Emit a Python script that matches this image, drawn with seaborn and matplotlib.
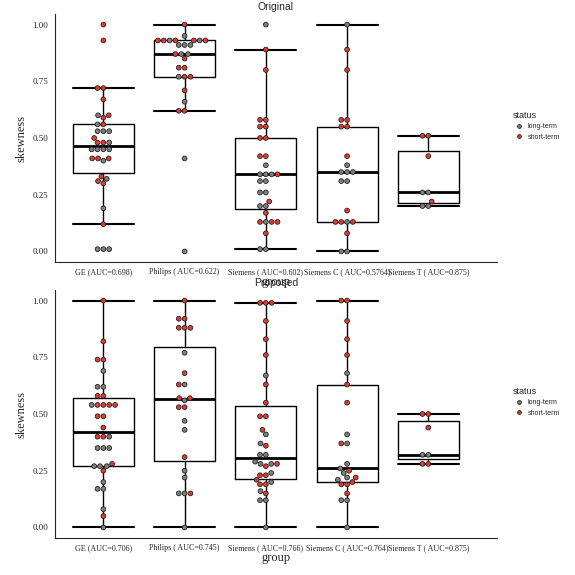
import pandas as pd
import numpy as np
import seaborn as sns
import matplotlib.pyplot as plt

#%% data (long-term = grey, short-term = red)
orig_groups = ['GE (AUC=0.698)', 'Philips ( AUC=0.622)', 'Siemens ( AUC=0.602)',
               'Siemens C ( AUC=0.5764)', 'Siemens T ( AUC=0.875)']
orig_long = [
    [0.60, 0.56, 0.53, 0.53, 0.53, 0.48, 0.45, 0.45, 0.45, 0.45, 0.40, 0.32, 0.19, 0.01, 0.01, 0.01],
    [0.95, 0.93, 0.93, 0.91, 0.91, 0.91, 0.87, 0.87, 0.77, 0.66, 0.41, 0.00],
    [1.00, 0.38, 0.34, 0.34, 0.34, 0.31, 0.31, 0.26, 0.26, 0.20, 0.20, 0.13, 0.01, 0.01],
    [1.00, 0.38, 0.35, 0.35, 0.35, 0.31, 0.31, 0.13, 0.00, 0.00],
    [0.26, 0.26, 0.20, 0.20],
]
orig_short = [
    [1.00, 0.93, 0.72, 0.72, 0.67, 0.60, 0.59, 0.56, 0.50, 0.48, 0.48, 0.41, 0.41, 0.41, 0.33, 0.31, 0.30, 0.12],
    [1.00, 0.93, 0.93, 0.93, 0.93, 0.93, 0.87, 0.85, 0.81, 0.81, 0.77, 0.77, 0.71, 0.62, 0.62],
    [0.89, 0.80, 0.58, 0.58, 0.55, 0.55, 0.50, 0.50, 0.42, 0.42, 0.34, 0.22, 0.17, 0.13, 0.13, 0.13, 0.08],
    [0.89, 0.80, 0.58, 0.58, 0.55, 0.55, 0.42, 0.18, 0.13, 0.13, 0.13, 0.08],
    [0.51, 0.51, 0.42, 0.22],
]

prop_groups = ['GE (AUC=0.706)', 'Philips ( AUC=0.745)', 'Siemens ( AUC=0.766)',
               'Siemens C ( AUC=0.764)', 'Siemens T ( AUC=0.875)']
prop_long = [
    [0.69, 0.62, 0.62, 0.54, 0.40, 0.35, 0.35, 0.35, 0.27, 0.27, 0.27, 0.20, 0.17, 0.17, 0.08, 0.00],
    [0.77, 0.63, 0.56, 0.47, 0.43, 0.25, 0.22, 0.15, 0.15, 0.00],
    [0.67, 0.41, 0.37, 0.32, 0.32, 0.29, 0.28, 0.28, 0.24, 0.20, 0.16, 0.12, 0.12, 0.00],
    [0.68, 0.41, 0.37, 0.28, 0.26, 0.24, 0.22, 0.21, 0.12, 0.12, 0.00],
    [0.32, 0.32],
]
prop_short = [
    [1.00, 0.82, 0.74, 0.74, 0.58, 0.58, 0.54, 0.54, 0.54, 0.54, 0.49, 0.49, 0.44, 0.40, 0.40, 0.28, 0.25, 0.05],
    [1.00, 0.92, 0.92, 0.88, 0.88, 0.88, 0.68, 0.63, 0.57, 0.57, 0.53, 0.53, 0.31, 0.15],
    [0.99, 0.99, 0.99, 0.91, 0.83, 0.76, 0.63, 0.55, 0.49, 0.49, 0.43, 0.36, 0.28, 0.27, 0.23, 0.23, 0.21,
     0.19, 0.19, 0.15],
    [1.00, 1.00, 0.91, 0.83, 0.76, 0.63, 0.55, 0.37, 0.25, 0.22, 0.20, 0.19, 0.19, 0.15],
    [0.50, 0.50, 0.44, 0.28, 0.28],
]

yticks = [0.00, 0.25, 0.50, 0.75, 1.00]
palette = {'long-term': '#7f7f7f', 'short-term': '#e8382e'}


def to_df(groups, long_vals, short_vals):
    rows = []
    for g, lv, sv in zip(groups, long_vals, short_vals):
        rows += [(g, v, 'long-term') for v in lv]
        rows += [(g, v, 'short-term') for v in sv]
    return pd.DataFrame(rows, columns=['group', 'skewness', 'status'])


def panel(ax, df, groups, title):
    sns.boxplot(data=df, x='group', y='skewness', order=groups, ax=ax,
                fill=False, color='black', width=0.75, showfliers=False,
                linewidth=1.0, medianprops={'linewidth': 2.0})
    # make whisker caps as wide as the boxes, like ggplot errorbars
    for ln in ax.lines:
        x, y = ln.get_xdata(), ln.get_ydata()
        if len(x) == 2 and y[0] == y[1] and abs(x[1] - x[0]) < 0.5:
            c = (x[0] + x[1]) / 2
            ln.set_xdata([c - 0.375, c + 0.375])
            ln.set_linewidth(1.5)
    sns.swarmplot(data=df, x='group', y='skewness', hue='status', order=groups,
                  palette=palette, size=3.4, edgecolor='#222222', linewidth=0.6,
                  ax=ax)
    ax.set_title(title, fontsize=7.5, family='Liberation Sans', pad=3)
    ax.set_ylim(-0.045, 1.045)
    ax.set_xlim(-0.6, 4.85)
    ax.set_yticks(yticks)
    ax.set_yticklabels(['%.2f' % t for t in yticks])
    ax.set_xlabel('group', fontsize=9, labelpad=0)
    ax.set_ylabel('skewness', fontsize=9)
    ax.tick_params(axis='y', labelsize=6.5, length=2.5, pad=2)
    ax.tick_params(axis='x', labelsize=5.8, length=2.5, pad=2)
    for s in ['top', 'right']:
        ax.spines[s].set_visible(False)
    leg = ax.legend(title='status', loc='center left', bbox_to_anchor=(1.02, 0.55),
                    frameon=False, fontsize=5, title_fontsize=6.5,
                    markerscale=0.8, handletextpad=0.2)
    for t in leg.get_texts() + [leg.get_title()]:
        t.set_family('Liberation Sans')
    leg._legend_box.align = 'left'


sns.set_style('white')
plt.rcParams['font.family'] = ['Liberation Serif', 'DejaVu Serif']

fig = plt.figure(figsize=(5.75, 5.75), dpi=100)
ax1 = fig.add_axes([0.095, 0.545, 0.77, 0.43])
ax2 = fig.add_axes([0.095, 0.065, 0.77, 0.43])

panel(ax1, to_df(orig_groups, orig_long, orig_short), orig_groups, 'Original')
panel(ax2, to_df(prop_groups, prop_long, prop_short), prop_groups, 'Proposed')

fig.savefig('out.png', dpi=100)
